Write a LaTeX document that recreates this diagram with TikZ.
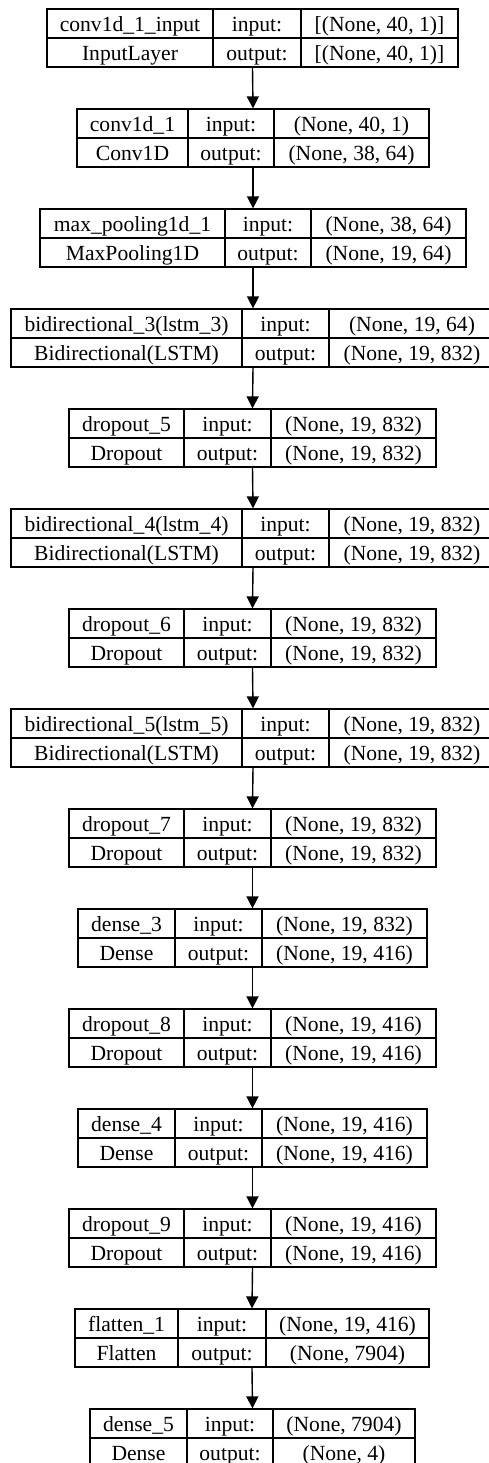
\documentclass[tikz,border=0pt]{standalone}
\usepackage{fontspec}
\setmainfont{Liberation Serif}
\usepackage{tikz}
\usetikzlibrary{arrows.meta}

\tikzset{
  record/.style={draw, line width=0.6pt, inner sep=0pt, minimum height=29pt},
  lbl/.style={anchor=base, inner sep=0pt, font=\fontsize{10.8}{13}\selectfont},
  flow/.style={line width=0.7pt, -{Triangle[length=6pt,width=6pt]}}
}

% #1 row, #2 left, #3 first bar, #4 second bar, #5 right, #6 name, #7 class, #8 in, #9 out
\newcommand{\layer}[9]{%
  \node[record, minimum width={(#5-#2)*0.5pt}] (l#1) at ({(#2+#5)/2},{38+100*#1}) {};
  \draw[line width=0.6pt] (#2,{38+100*#1}) -- (#5,{38+100*#1});
  \draw[line width=0.6pt] (#3,{9+100*#1}) -- (#3,{67+100*#1});
  \draw[line width=0.6pt] (#4,{9+100*#1}) -- (#4,{67+100*#1});
  \node[lbl] (l#1-name) at ({(#2+#3)/2},{31+100*#1}) {#6};
  \node[lbl] (l#1-cls) at ({(#2+#3)/2},{60+100*#1}) {#7};
  \node[lbl] (l#1-ik) at ({(#3+#4)/2},{31+100*#1}) {input:};
  \node[lbl] (l#1-ok) at ({(#3+#4)/2},{60+100*#1}) {output:};
  \node[lbl] (l#1-in) at ({(#4+#5)/2},{31+100*#1}) {#8};
  \node[lbl] (l#1-out) at ({(#4+#5)/2},{60+100*#1}) {#9};
}

\begin{document}
\begin{tikzpicture}[x=0.5pt,y=-0.5pt]
  \useasboundingbox (0,0) rectangle (488,1463);
  % layers, top to bottom
  \layer{0}{47}{213}{301}{458}{conv1d\_1\_input}{InputLayer}{[(None, 40, 1)]}{[(None, 40, 1)]}
  \layer{1}{77}{188}{274}{429}{conv1d\_1}{Conv1D}{(None, 40, 1)}{(None, 38, 64)}
  \layer{2}{40}{225}{311}{466}{max\_pooling1d\_1}{MaxPooling1D}{(None, 38, 64)}{(None, 19, 64)}
  \layer{3}{11}{242}{329}{495}{bidirectional\_3(lstm\_3)}{Bidirectional(LSTM)}{(None, 19, 64)}{(None, 19, 832)}
  \layer{4}{69}{184}{271}{436}{dropout\_5}{Dropout}{(None, 19, 832)}{(None, 19, 832)}
  \layer{5}{11}{242}{329}{495}{bidirectional\_4(lstm\_4)}{Bidirectional(LSTM)}{(None, 19, 832)}{(None, 19, 832)}
  \layer{6}{69}{184}{271}{436}{dropout\_6}{Dropout}{(None, 19, 832)}{(None, 19, 832)}
  \layer{7}{11}{242}{329}{495}{bidirectional\_5(lstm\_5)}{Bidirectional(LSTM)}{(None, 19, 832)}{(None, 19, 832)}
  \layer{8}{69}{184}{271}{436}{dropout\_7}{Dropout}{(None, 19, 832)}{(None, 19, 832)}
  \layer{9}{78}{175}{262}{427}{dense\_3}{Dense}{(None, 19, 832)}{(None, 19, 416)}
  \layer{10}{69}{184}{271}{436}{dropout\_8}{Dropout}{(None, 19, 416)}{(None, 19, 416)}
  \layer{11}{78}{175}{262}{427}{dense\_4}{Dense}{(None, 19, 416)}{(None, 19, 416)}
  \layer{12}{69}{184}{271}{436}{dropout\_9}{Dropout}{(None, 19, 416)}{(None, 19, 416)}
  \layer{13}{75}{178}{266}{429}{flatten\_1}{Flatten}{(None, 19, 416)}{(None, 7904)}
  \layer{14}{90}{187}{273}{415}{dense\_5}{Dense}{(None, 7904)}{(None, 4)}
  % arrows between layers
  \draw[flow] (l0.south) -- (l1.north);
  \draw[flow] (l1.south) -- (l2.north);
  \draw[flow] (l2.south) -- (l3.north);
  \draw[flow] (l3.south) -- (l4.north);
  \draw[flow] (l4.south) -- (l5.north);
  \draw[flow] (l5.south) -- (l6.north);
  \draw[flow] (l6.south) -- (l7.north);
  \draw[flow] (l7.south) -- (l8.north);
  \draw[flow] (l8.south) -- (l9.north);
  \draw[flow] (l9.south) -- (l10.north);
  \draw[flow] (l10.south) -- (l11.north);
  \draw[flow] (l11.south) -- (l12.north);
  \draw[flow] (l12.south) -- (l13.north);
  \draw[flow] (l13.south) -- (l14.north);
\end{tikzpicture}
\end{document}
